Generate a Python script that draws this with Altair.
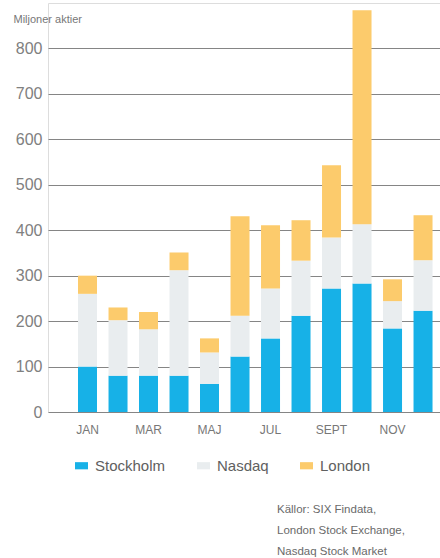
import altair as alt
import pandas as pd

months = ["JAN", "FEB", "MAR", "APR", "MAJ", "JUN", "JUL", "AUG", "SEPT", "OKT", "NOV", "DEC"]
shown_months = ["JAN", "MAR", "MAJ", "JUL", "SEPT", "NOV"]
series = ["Stockholm", "Nasdaq", "London"]
stockholm = [100, 80, 80, 80, 62, 122, 162, 212, 272, 283, 184, 223]
nasdaq = [160, 122, 102, 232, 69, 90, 110, 121, 112, 130, 60, 111]
london = [40, 28, 38, 39, 31, 219, 139, 89, 159, 471, 48, 99]
colors = ["#17b1e7", "#e9edef", "#fccb6c"]
y_ticks = [0, 100, 200, 300, 400, 500, 600, 700, 800]
y_title = "Miljoner aktier"
source_lines = ["Källor: SIX Findata,", "London Stock Exchange,", "Nasdaq Stock Market"]

rows = []
for i, m in enumerate(months):
    for k, (s, vals) in enumerate(zip(series, [stockholm, nasdaq, london])):
        rows.append({"month": m, "series": s, "value": vals[i], "order": k})
df = pd.DataFrame(rows)

FONT = "Liberation Sans"

bars = alt.Chart(df).mark_bar(size=19).encode(
    x=alt.X("month:N", sort=months,
            scale=alt.Scale(paddingInner=0.38, paddingOuter=0.616, align=0.8),
            axis=alt.Axis(title=None, values=shown_months, labelAngle=0, ticks=False,
                          domain=False, grid=False, labelPadding=12, labelFontSize=12,
                          labelColor="#777777", labelFont=FONT)),
    y=alt.Y("value:Q", stack="zero",
            scale=alt.Scale(domain=[0, 900], nice=False),
            axis=alt.Axis(values=y_ticks, title=y_title, titleAngle=0, titleAlign="left",
                          titleBaseline="middle", titleX=-35, titleY=16, titleFontSize=11,
                          titleFontWeight="normal", titleColor="#777777", titleFont=FONT,
                          ticks=False, domain=False, labelPadding=6, labelFontSize=16,
                          labelColor="#808080", labelFont=FONT,
                          gridColor="#858585", gridWidth=1.2, gridOpacity=1)),
    color=alt.Color("series:N", sort=series,
                    scale=alt.Scale(domain=series, range=colors),
                    legend=alt.Legend(title=None, orient="none", direction="horizontal",
                                      legendX=26, legendY=455,
                                      symbolType="M-1,-0.55H1V0.55H-1Z", symbolSize=170,
                                      symbolStrokeWidth=0, symbolOpacity=1,
                                      labelFontSize=15, labelColor="#606060", labelFont=FONT,
                                      labelOffset=6, columnPadding=30)),
    order=alt.Order("order:Q"),
)

src = pd.DataFrame({"t": ["\n".join(source_lines)]})
source = alt.Chart(src).mark_text(
    align="left", baseline="top", fontSize=11.5, font=FONT, color="#6a6a6a",
    lineBreak="\n", lineHeight=21
).encode(text="t:N", x=alt.value(229), y=alt.value(501))

chart = alt.layer(bars, source).properties(
    width=392, height=409,
    autosize=alt.AutoSizeParams(type="none"),
    padding={"left": 48, "top": 3, "right": 0, "bottom": 146},
).configure_view(stroke=None).configure(background="white")

chart.save("out.html", embed_options={"renderer": "svg", "actions": False})
